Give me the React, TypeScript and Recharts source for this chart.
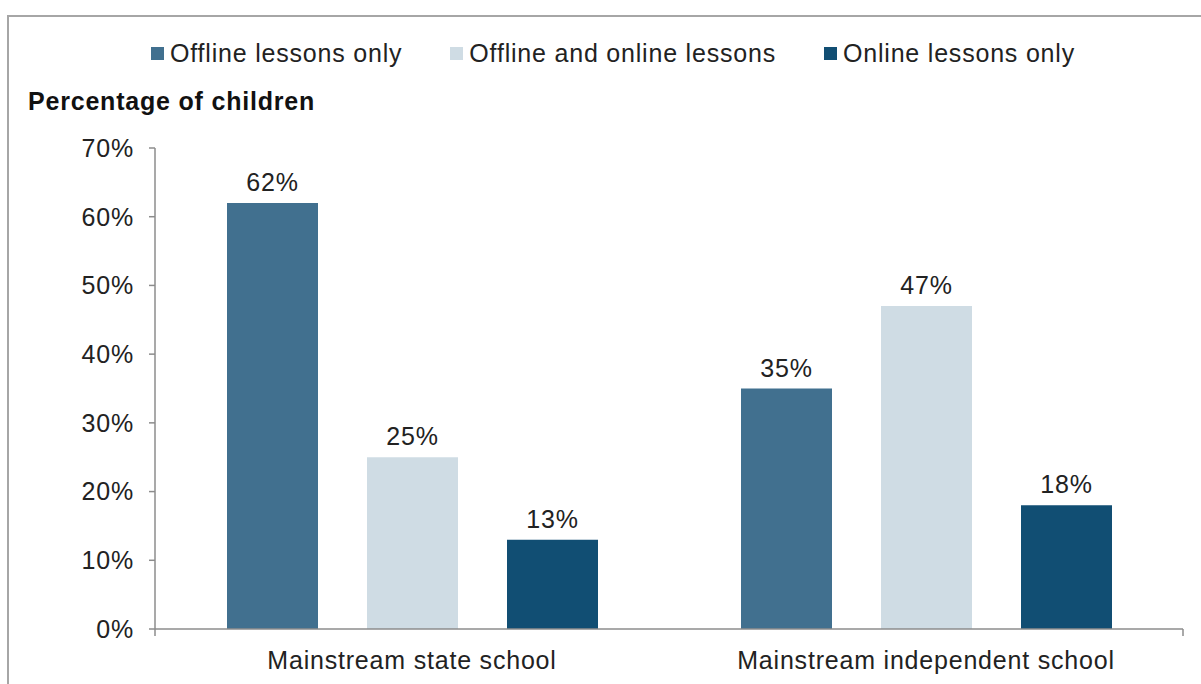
import React from "react";
import { BarChart, Bar, XAxis, YAxis, Legend, LabelList } from "recharts";

const categories = ["Mainstream state school", "Mainstream independent school"];
const offlineOnly = [0.62, 0.35];
const offlineAndOnline = [0.25, 0.47];
const onlineOnly = [0.13, 0.18];
const yTicks = [0, 0.1, 0.2, 0.3, 0.4, 0.5, 0.6, 0.7];

const series = [
  { key: "offlineOnly", name: "Offline lessons only", color: "#41708f" },
  { key: "offlineAndOnline", name: "Offline and online lessons", color: "#cfdce4" },
  { key: "onlineOnly", name: "Online lessons only", color: "#114e73" },
];

const data = categories.map((name, i) => ({
  name,
  offlineOnly: offlineOnly[i],
  offlineAndOnline: offlineAndOnline[i],
  onlineOnly: onlineOnly[i],
}));

const FONT = "'Liberation Sans', Arial, sans-serif";
const SPACING = "0.8px";
const pct = (v: any) => `${Math.round(Number(v) * 100)}%`;

function LegendContent() {
  return (
    <div
      style={{
        height: 40,
        display: "flex",
        justifyContent: "center",
        alignItems: "center",
        paddingLeft: 73,
        boxSizing: "border-box",
        fontFamily: FONT,
        fontSize: 25,
        letterSpacing: SPACING,
        color: "#222",
      }}
    >
      {series.map((s) => (
        <div key={s.key} style={{ display: "flex", alignItems: "center", marginRight: 48 }}>
          <span style={{ width: 13, height: 13, background: s.color, marginRight: 6, display: "inline-block" }} />
          <span>{s.name}</span>
        </div>
      ))}
    </div>
  );
}

export default function App() {
  return (
    <div style={{ position: "absolute", left: 0, top: 0, width: 1201, height: 684, overflow: "hidden", background: "#fff" }}>
      <div
        style={{
          position: "absolute",
          left: 7,
          top: 15,
          width: 1230,
          height: 720,
          border: "2px solid #a6a6a6",
        }}
      />
      <div style={{ position: "absolute", left: 0, top: 0 }}>
        <BarChart
          width={1201}
          height={684}
          data={data}
          margin={{ top: 108, right: 18, bottom: 14, left: 75 }}
          barGap={49}
          barSize={91}
        >
          <Legend verticalAlign="top" wrapperStyle={{ top: 33, left: 0, width: 1201 }} content={() => <LegendContent />} />
          <XAxis
            xAxisId="a"
            type="number"
            domain={[0, 2]}
            ticks={[0, 1, 2]}
            height={1}
            tickFormatter={() => ""}
            axisLine={{ stroke: "#8c8c8c", strokeWidth: 1.5 }}
            tickLine={{ stroke: "#8c8c8c", strokeWidth: 1.5 }}
            tickSize={7}
          />
          <XAxis
            xAxisId="b"
            dataKey="name"
            height={40}
            axisLine={false}
            tickLine={false}
            tickMargin={15}
            tick={{ fontFamily: FONT, fontSize: 25, fill: "#222", style: { letterSpacing: SPACING } }}
          />
          <YAxis
            width={80}
            domain={[0, 0.7]}
            ticks={yTicks}
            tickFormatter={pct}
            axisLine={{ stroke: "#8c8c8c", strokeWidth: 1.5 }}
            tickLine={{ stroke: "#8c8c8c", strokeWidth: 1.5 }}
            tickSize={6}
            tickMargin={15}
            tick={{ fontFamily: FONT, fontSize: 25, fill: "#222", style: { letterSpacing: SPACING } }}
            label={{
              content: (props: any) => {
                const vb = props.viewBox || { x: 75, y: 148 };
                return (
                  <text
                    x={vb.x - 47}
                    y={vb.y - 38}
                    fontFamily={FONT}
                    fontSize={25}
                    fontWeight="bold"
                    fill="#111"
                    style={{ letterSpacing: SPACING }}
                  >
                    Percentage of children
                  </text>
                );
              },
            }}
          />
          {series.map((s) => (
            <Bar key={s.key} xAxisId="b" dataKey={s.key} name={s.name} fill={s.color} isAnimationActive={false}>
              <LabelList
                dataKey={s.key}
                position="top"
                offset={12}
                formatter={pct}
                style={{ fontFamily: FONT, fontSize: 25, fill: "#222", letterSpacing: SPACING }}
              />
            </Bar>
          ))}
        </BarChart>
      </div>
    </div>
  );
}
